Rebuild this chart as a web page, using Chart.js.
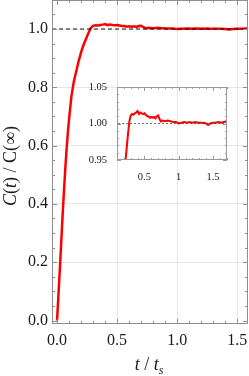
<!DOCTYPE html>
<html>
<head>
<meta charset="utf-8">
<script src="https://cdn.jsdelivr.net/npm/chart.js@4.4.0/dist/chart.umd.min.js"></script>
<style>
html, body { margin: 0; padding: 0; background: #fff; }
#wrap { position: relative; width: 249px; height: 376px; }
#insetChart { position: absolute; left: 87px; top: 80px; }
</style>
</head>
<body>
<div id="wrap">
  <canvas id="mainChart" width="249" height="376"></canvas>
  <canvas id="insetChart" width="145" height="100"></canvas>
</div>
<script>
// time in units of t_s
const tVals = [0, 0.01, 0.02, 0.03, 0.04, 0.05, 0.06, 0.07, 0.08, 0.09, 0.10, 0.11, 0.12, 0.14, 0.16, 0.18, 0.20, 0.22, 0.24, 0.26, 0.28,
  0.30, 0.32, 0.34, 0.36, 0.38, 0.40, 0.42, 0.44, 0.46, 0.48, 0.50, 0.52, 0.54, 0.56, 0.58, 0.60, 0.62, 0.64, 0.66, 0.68, 0.70, 0.72, 0.74, 0.76,
  0.80, 0.84, 0.88, 0.92, 0.96, 1.00, 1.04, 1.08, 1.12, 1.16, 1.20, 1.24, 1.28, 1.32, 1.36, 1.40, 1.43, 1.46, 1.50, 1.54, 1.58, 1.62, 1.66, 1.70];
// C(t) / C(inf)
const cVals = [0, 0.075, 0.15, 0.23, 0.31, 0.39, 0.46, 0.53, 0.59, 0.645, 0.69, 0.73, 0.77, 0.82, 0.855, 0.89, 0.92, 0.945, 0.965, 0.985, 1.003,
  1.011, 1.013, 1.012, 1.014, 1.015, 1.017, 1.013, 1.015, 1.014, 1.013, 1.014, 1.012, 1.010, 1.010, 1.008, 1.009, 1.008, 1.009, 1.007, 1.010, 1.011, 1.006, 1.003, 1.004,
  1.003, 1.004, 1.003, 1.002, 1.002, 1.000, 1.001, 1.002, 1.001, 1.002, 1.001, 1.002, 1.001, 1.001, 1.001, 1.000, 0.998, 1.000, 1.001, 1.001, 1.002, 1.001, 1.002, 1.003];
const refLevel = 1.0;

const mainXTicks = [0.0, 0.5, 1.0, 1.5];
const mainYTicks = [0.0, 0.2, 0.4, 0.6, 0.8, 1.0];
const insetXTicks = [0.5, 1, 1.5];
const insetYTicks = [0.95, 1.00, 1.05];

const serif = 'Liberation Serif';
const curve = tVals.map((t, i) => ({ x: t, y: cVals[i] }));

function isMultiple(v, step) {
  const r = v / step;
  return Math.abs(r - Math.round(r)) < 1e-6;
}

// frame with inward ticks on all four sides
const frameTicks = {
  id: 'frameTicks',
  afterDatasetsDraw(chart, args, o) {
    const { ctx, chartArea: a, scales } = chart;
    const x = scales.x, y = scales.y;
    ctx.save();
    ctx.strokeStyle = o.color;
    ctx.lineWidth = 1;
    ctx.beginPath();
    for (let i = Math.ceil(x.min / o.xMinor - 1e-9); i * o.xMinor <= x.max + 1e-9; i++) {
      const v = i * o.xMinor;
      const px = Math.round(x.getPixelForValue(v)) + 0.5;
      const len = isMultiple(v, o.xMajor) ? o.major : o.minor;
      ctx.moveTo(px, a.bottom); ctx.lineTo(px, a.bottom - len);
      ctx.moveTo(px, a.top); ctx.lineTo(px, a.top + len);
    }
    for (let i = Math.ceil(y.min / o.yMinor - 1e-9); i * o.yMinor <= y.max + 1e-9; i++) {
      const v = i * o.yMinor;
      const py = Math.round(y.getPixelForValue(v)) + 0.5;
      const len = isMultiple(v, o.yMajor) ? o.major : o.minor;
      ctx.moveTo(a.left, py); ctx.lineTo(a.left + len, py);
      ctx.moveTo(a.right, py); ctx.lineTo(a.right - len, py);
    }
    ctx.stroke();
    ctx.strokeRect(a.left + 0.5, a.top + 0.5, a.width - 1, a.height - 1);
    ctx.restore();
  }
};

function drawParts(ctx, parts, size) {
  let w = 0;
  parts.forEach(p => {
    ctx.font = p[1] + ' ' + (p[2] || size) + 'px "' + serif + '"';
    w += ctx.measureText(p[0]).width;
  });
  let cx = -w / 2;
  parts.forEach(p => {
    ctx.font = p[1] + ' ' + (p[2] || size) + 'px "' + serif + '"';
    ctx.fillText(p[0], cx, p[3] || 0);
    cx += ctx.measureText(p[0]).width;
  });
}

const axisTitles = {
  id: 'axisTitles',
  afterDraw(chart) {
    const ctx = chart.ctx;
    ctx.save();
    ctx.fillStyle = '#1a1a1a';
    ctx.textBaseline = 'alphabetic';
    ctx.save();
    ctx.translate(16, 166);
    ctx.rotate(-Math.PI / 2);
    drawParts(ctx, [['C', 'italic'], ['(', 'normal'], ['t', 'italic'], [') / C(\u221E)', 'normal']], 18);
    ctx.restore();
    ctx.translate(149, 370);
    drawParts(ctx, [['t', 'italic'], [' / ', 'normal'], ['t', 'italic'], ['s', 'italic', 12, 4]], 18);
    ctx.restore();
  }
};

function gridColor(c) {
  return c.tick.value === 0 ? 'rgba(0,0,0,0)' : '#e6e6e6';
}

function fitX(h) {
  return s => { s.height = h; s.paddingLeft = 0; s.paddingRight = 0; };
}
function fitY(w) {
  return s => { s.width = w; s.paddingTop = 0; s.paddingBottom = 0; };
}

new Chart(document.getElementById('mainChart'), {
  type: 'line',
  data: {
    datasets: [
      {
        data: [{ x: -0.1, y: refLevel }, { x: 1.7, y: refLevel }],
        borderColor: '#111', borderWidth: 1, borderDash: [4, 3],
        pointRadius: 0
      },
      {
        data: curve,
        borderColor: '#ff0000', borderWidth: 2.5,
        pointRadius: 0, tension: 0
      }
    ]
  },
  options: {
    responsive: false,
    animation: false,
    layout: { padding: { top: 0, right: 1, left: 0, bottom: 0 } },
    plugins: {
      legend: { display: false },
      tooltip: { enabled: false },
      frameTicks: { color: '#8f8f8f', xMinor: 0.1, xMajor: 0.5, yMinor: 0.05, yMajor: 0.2, major: 5, minor: 3 }
    },
    scales: {
      x: {
        type: 'linear', min: -0.042, max: 1.59,
        afterBuildTicks: s => { s.ticks = mainXTicks.map(v => ({ value: v })); },
        afterFit: fitX(52),
        grid: { drawTicks: false, color: gridColor },
        border: { display: false },
        ticks: {
          padding: 7, color: '#1a1a1a', autoSkip: false, maxRotation: 0,
          font: { family: serif, size: 16 },
          callback: v => v.toFixed(1)
        }
      },
      y: {
        type: 'linear', min: -0.012, max: 1.0995,
        afterBuildTicks: s => { s.ticks = mainYTicks.map(v => ({ value: v })); },
        afterFit: fitY(52),
        grid: { drawTicks: false, color: gridColor },
        border: { display: false },
        ticks: {
          padding: 4, color: '#1a1a1a', autoSkip: false,
          font: { family: serif, size: 16 },
          callback: v => v.toFixed(1)
        }
      }
    }
  },
  plugins: [frameTicks, axisTitles]
});

new Chart(document.getElementById('insetChart'), {
  type: 'line',
  data: {
    datasets: [
      {
        data: [{ x: 0.0, y: refLevel }, { x: 1.8, y: refLevel }],
        borderColor: '#444', borderWidth: 0.8, borderDash: [2, 2],
        pointRadius: 0
      },
      {
        data: curve,
        borderColor: '#ff0000', borderWidth: 2,
        pointRadius: 0, tension: 0
      }
    ]
  },
  options: {
    responsive: false,
    animation: false,
    layout: { padding: { top: 7, right: 5, left: 0, bottom: 0 } },
    plugins: {
      legend: { display: false },
      tooltip: { enabled: false },
      frameTicks: { color: '#999', xMinor: 0.1, xMajor: 0.5, yMinor: 0.01, yMajor: 0.05, major: 4, minor: 2 }
    },
    scales: {
      x: {
        type: 'linear', min: 0.1, max: 1.705,
        afterBuildTicks: s => { s.ticks = insetXTicks.map(v => ({ value: v })); },
        afterFit: fitX(20),
        grid: { display: false },
        border: { display: false },
        ticks: {
          padding: 3, color: '#1a1a1a', autoSkip: false, maxRotation: 0,
          font: { family: serif, size: 10.5 },
          callback: v => String(v)
        }
      },
      y: {
        type: 'linear', min: 0.95, max: 1.05,
        afterBuildTicks: s => { s.ticks = insetYTicks.map(v => ({ value: v })); },
        afterFit: fitY(30),
        grid: { display: false },
        border: { display: false },
        ticks: {
          padding: 2, color: '#1a1a1a', autoSkip: false,
          font: { family: serif, size: 10.5 },
          callback: v => v.toFixed(2)
        }
      }
    }
  },
  plugins: [frameTicks]
});
</script>
</body>
</html>
